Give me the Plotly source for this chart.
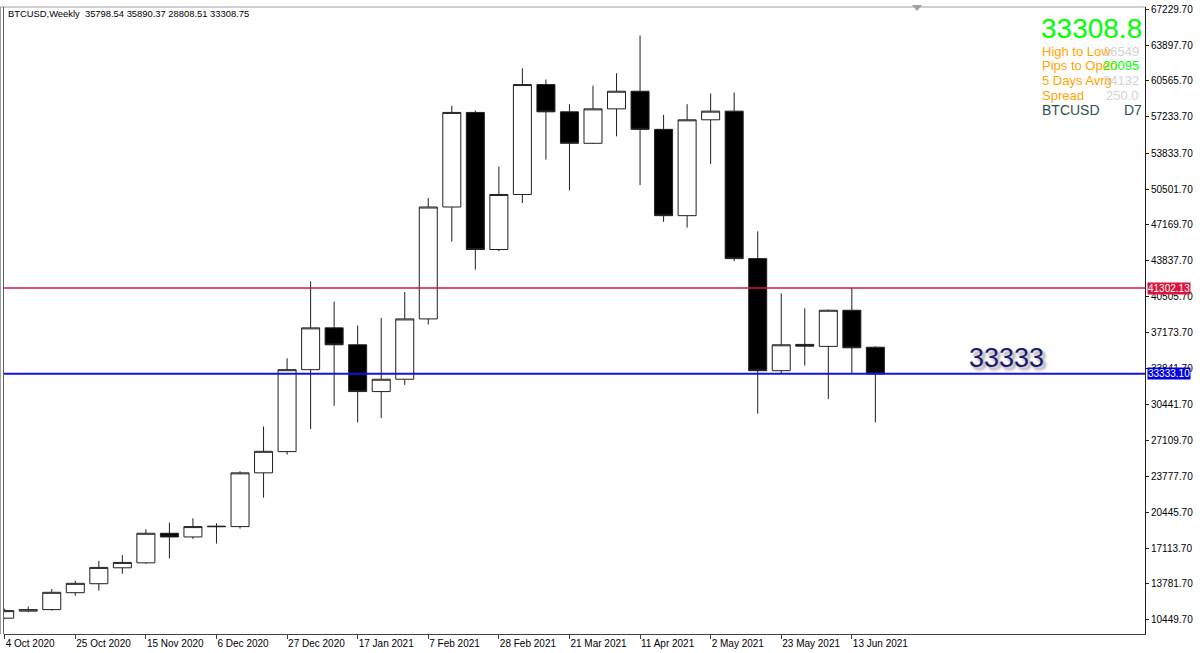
import plotly.graph_objects as go
import pandas as pd

# ---- data ----
start_week = "2020-10-04"
opens  = [10596, 11250, 11392, 12966, 13800, 15281, 15744, 18495, 18152, 19100,
          19115, 24115, 26088, 33709, 37598, 36024, 31672, 32820, 38431, 48840,
          57637, 44886, 50006, 60229, 57692, 54766, 57970, 59609, 56062, 48034,
          56951, 57757, 44040, 33616, 36060, 35876, 39237, 35798.54]
highs  = [11480, 11670, 13309, 14078, 15930, 16457, 18865, 19485, 19883, 19421,
          24264, 28431, 34764, 41922, 40043, 37820, 38524, 40932, 49673, 58248,
          57822, 52599, 61739, 60692, 58405, 60137, 61276, 64795, 57414, 58405,
          59396, 59489, 46580, 40811, 39422, 39302, 41302, 35890.37]
lows   = [10530, 11150, 11300, 12689, 13152, 14726, 15652, 16152, 17970, 17541,
          18930, 21800, 25810, 28190, 30347, 28801, 29208, 32292, 37913, 45626,
          43006, 44728, 49210, 53247, 50377, 54700, 55414, 50877, 47451, 46923,
          52849, 43802, 29607, 33375, 34079, 30968, 33375, 28808.51]
closes = [11300, 11390, 13003, 13837, 15318, 15781, 18495, 18152, 19115, 19140,
          24115, 26116, 33709, 37598, 36024, 31672, 32820, 38431, 48840, 57637,
          44886, 50006, 60229, 57692, 54766, 57970, 59609, 56062, 48034, 56951,
          57757, 44040, 33616, 36024, 35900, 39237, 35746, 33308.75]
dates = pd.date_range(start_week, periods=len(opens), freq="7D")

price_ticks = [67229.70, 63897.70, 60565.70, 57233.70, 53833.70, 50501.70, 47169.70,
               43837.70, 40505.70, 37173.70, 33841.70, 30441.70, 27109.70, 23777.70,
               20445.70, 17113.70, 13781.70, 10449.70]
time_ticks = ["2020-10-04", "2020-10-25", "2020-11-15", "2020-12-06", "2020-12-27",
              "2021-01-17", "2021-02-07", "2021-02-28", "2021-03-21", "2021-04-11",
              "2021-05-02", "2021-05-23", "2021-06-13"]
time_labels = ["4 Oct 2020", "25 Oct 2020", "15 Nov 2020", "6 Dec 2020", "27 Dec 2020",
               "17 Jan 2021", "7 Feb 2021", "28 Feb 2021", "21 Mar 2021", "11 Apr 2021",
               "2 May 2021", "23 May 2021", "13 Jun 2021"]

red_level = 41302.13
blue_level = 33333.10
header = "BTCUSD,Weekly\u00a0\u00a035798.54 35890.37 28808.51 33308.75"
big_price = "33308.8"
info_labels = ["High to Low", "Pips to Open", "5 Days Avrg", "Spread"]
info_values = ["26549", "20095", "34132", "250.0"]
info_value_colors = ["#d3d3d3", "#00ff00", "#d3d3d3", "#d3d3d3"]
symbol_label = "BTCUSD"
period_label = "D7"
level_text = "33333"

# ---- layout geometry ----
W, H = 1200, 653
ML, MR, MT, MB = 4, 55, 5, 18
PW, PH = W - ML - MR, H - MT - MB
def px_x(p):
    return (p - ML) / PW
def px_y(p):
    return 1 - (p - MT) / PH

FONT = "Liberation Sans, Arial, sans-serif"

fig = go.Figure()
fig.add_trace(go.Candlestick(
    x=dates, open=opens, high=highs, low=lows, close=closes,
    increasing=dict(fillcolor="white", line=dict(color="#202020", width=1)),
    decreasing=dict(fillcolor="black", line=dict(color="#202020", width=1)),
    whiskerwidth=0, hoverinfo="skip", showlegend=False,
))

shapes = [
    dict(type="line", xref="paper", x0=0, x1=1, yref="y", y0=red_level, y1=red_level,
         line=dict(color="#dc143c", width=1.5)),
    dict(type="line", xref="paper", x0=0, x1=1, yref="y", y0=blue_level, y1=blue_level,
         line=dict(color="#1414d8", width=2)),
    # frame lines
    dict(type="line", xref="paper", yref="paper", x0=px_x(0), x1=1, y0=1, y1=1,
         line=dict(color="#a0a0a0", width=1)),
    dict(type="line", xref="paper", yref="paper", x0=px_x(0.5), x1=px_x(0.5), y0=0, y1=1,
         line=dict(color="#a0a0a0", width=1)),
    dict(type="line", xref="paper", yref="paper", x0=px_x(3.5), x1=px_x(3.5), y0=0, y1=1,
         line=dict(color="#606060", width=1)),
    # chart shift marker
    dict(type="path", xref="paper", yref="paper",
         path=f"M {px_x(912)} {px_y(3)} L {px_x(922)} {px_y(3)} L {px_x(917)} {px_y(9)} Z",
         fillcolor="#a0a0a0", line=dict(width=0)),
]

ann = []
ann.append(dict(xref="paper", yref="paper", x=px_x(6), y=px_y(12), xanchor="left",
                yanchor="middle", text=header, showarrow=False,
                font=dict(family=FONT, size=9.4, color="black")))
ann.append(dict(xref="paper", yref="paper", x=px_x(1144), y=px_y(27), xanchor="right",
                yanchor="middle", text=big_price, showarrow=False,
                font=dict(family=FONT, size=28, color="#00ff00")))
row_y = [49.5, 64, 79, 93.5]
for lab, val, col, yy in zip(info_labels, info_values, info_value_colors, row_y):
    ann.append(dict(xref="paper", yref="paper", x=px_x(1040), y=px_y(yy), xanchor="left",
                    yanchor="middle", text=lab, showarrow=False,
                    font=dict(family=FONT, size=13, color="#ffa500")))
    ann.append(dict(xref="paper", yref="paper", x=px_x(1141), y=px_y(yy), xanchor="right",
                    yanchor="middle", text=val, showarrow=False,
                    font=dict(family=FONT, size=13, color=col)))
ann.append(dict(xref="paper", yref="paper", x=px_x(1040), y=px_y(108), xanchor="left",
                yanchor="middle", text=symbol_label, showarrow=False,
                font=dict(family=FONT, size=14, color="#2f4f4f")))
ann.append(dict(xref="paper", yref="paper", x=px_x(1144), y=px_y(108), xanchor="right",
                yanchor="middle", text=period_label, showarrow=False,
                font=dict(family=FONT, size=14, color="#2f4f4f")))
ann.append(dict(xref="paper", yref="paper", x=px_x(1006), y=px_y(358), xanchor="center",
                yanchor="middle", text=level_text, showarrow=False,
                font=dict(family=FONT, size=27, color="#1a1a6e",
                          shadow="3px 3px 3px #9a9a9a")))
# price tags on the axis
ann.append(dict(xref="paper", yref="y", x=1, y=red_level, xanchor="left", yanchor="middle",
                xshift=2, text=f"{red_level:.2f}", showarrow=False, bgcolor="#dc143c",
                borderpad=0, font=dict(family=FONT, size=10, color="white")))
ann.append(dict(xref="paper", yref="y", x=1, y=blue_level, xanchor="left", yanchor="middle",
                xshift=2, text=f"{blue_level:.2f}", showarrow=False, bgcolor="#0000e0",
                borderpad=0, font=dict(family=FONT, size=10, color="white")))

fig.update_layout(
    width=W, height=H,
    margin=dict(l=ML, r=MR, t=MT, b=MB, pad=0),
    paper_bgcolor="white", plot_bgcolor="white",
    boxgap=0.235, boxgroupgap=0,
    shapes=shapes, annotations=ann,
    font=dict(family=FONT, size=10, color="black"),
    xaxis=dict(
        type="date",
        range=["2020-10-03 19:00", "2021-09-08 05:00"],
        rangeslider=dict(visible=False),
        showgrid=False, zeroline=False,
        showline=True, linecolor="#404040", linewidth=1,
        ticks="outside", ticklen=4, tickcolor="#404040",
        tickvals=time_ticks, ticktext=time_labels,
        ticklabelposition="outside right",
        tickfont=dict(family=FONT, size=10, color="black"),
    ),
    yaxis=dict(
        side="right",
        range=[9124, 67443],
        showgrid=False, zeroline=False,
        showline=True, linecolor="#202020", linewidth=1,
        ticks="outside", ticklen=3, tickcolor="#202020",
        tickvals=price_ticks, ticktext=[f"{v:.2f}" for v in price_ticks],
        tickfont=dict(family=FONT, size=10, color="black"),
    ),
)

fig.write_html("out.html",
               config={"displayModeBar": False},
               post_script="document.body.style.margin='0';document.body.style.overflow='hidden';")
